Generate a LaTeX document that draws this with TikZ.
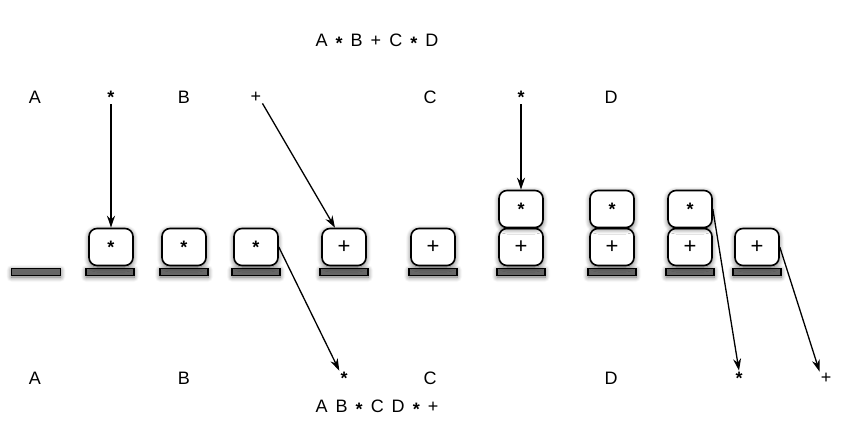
\documentclass[tikz,border=0pt]{standalone}
\usepackage{fontspec}
\setmainfont{Liberation Sans}
\usetikzlibrary{arrows.meta,shadows.blur}

\newcommand{\opmul}{\raisebox{-3pt}{\textbf{*}}}
\newcommand{\opadd}{{\fontsize{22}{24}\selectfont +}}

\begin{document}
\begin{tikzpicture}[x=1pt,y=-1pt,
                label node/.style={font=\fontsize{18}{20}\selectfont,inner sep=1pt},
                box node/.style={draw,fill=white,line width=1.6pt,rounded corners=8pt,
                        minimum width=44pt,minimum height=37pt,inner sep=0pt,
                        font=\fontsize{18}{20}\selectfont,
                        blur shadow={shadow xshift=0pt,shadow yshift=-1.5pt,shadow blur radius=5pt,
                                shadow blur steps=8,shadow opacity=60}},
                bar node/.style={draw,fill=black!60,line width=1.1pt,minimum width=48pt,
                        minimum height=7pt,inner sep=0pt,
                        blur shadow={shadow xshift=0pt,shadow yshift=-1.5pt,shadow blur radius=5pt,
                                shadow blur steps=8,shadow opacity=60}},
                arrow/.style={line width=1.3pt,-{Stealth[length=12pt,width=8pt]}},
                ]
                \useasboundingbox (0,0) rectangle (847,441);
                \def\yT{97}
                \def\yB{378}

                % expressions
                \node[label node] (infix) at (377,42) {A\, \opmul\, B\, +\, C\, \opmul\, D};
                \node[label node] (postfix) at (377,408) {A\, B\, \opmul\, C\, D\, \opmul\, +};

                % input tokens
                \node[label node] (inA) at (35,\yT) {A};
                \node[label node] (inmul1) at (111,\yT) {\opmul};
                \node[label node] (inB) at (184,\yT) {B};
                \node[label node] (inadd) at (256,\yT) {+};
                \node[label node] (inC) at (430,\yT) {C};
                \node[label node] (inmul2) at (521,\yT) {\opmul};
                \node[label node] (inD) at (611,\yT) {D};

                % output tokens
                \node[label node] (outA) at (35,\yB) {A};
                \node[label node] (outB) at (184,\yB) {B};
                \node[label node] (outmul1) at (344,\yB) {\opmul};
                \node[label node] (outC) at (430,\yB) {C};
                \node[label node] (outD) at (611,\yB) {D};
                \node[label node] (outmul2) at (739,\yB) {\opmul};
                \node[label node] (outadd) at (826,\yB) {+};

                % stack bases
                \node[bar node, minimum width=49pt] (bar1) at (36,272) {};
                \node[bar node] (bar2) at (110,272) {};
                \node[bar node] (bar3) at (184,272) {};
                \node[bar node] (bar4) at (256,272) {};
                \node[bar node] (bar5) at (344,272) {};
                \node[bar node] (bar6) at (433,272) {};
                \node[bar node] (bar7) at (521,272) {};
                \node[bar node] (bar8) at (612,272) {};
                \node[bar node] (bar9) at (690,272) {};
                \node[bar node] (bar10) at (757,272) {};

                % stack contents
                \node[box node] (low2) at (111,247) {\opmul};
                \node[box node] (low3) at (184,247) {\opmul};
                \node[box node] (low4) at (256,247) {\opmul};
                \node[box node] (low5) at (344,247) {\opadd};
                \node[box node] (low6) at (433,247) {\opadd};
                \node[box node] (low7) at (521,247) {\opadd};
                \node[box node] (up7) at (521,209) {\opmul};
                \node[box node] (low8) at (612,247) {\opadd};
                \node[box node] (up8) at (612,209) {\opmul};
                \node[box node] (low9) at (690,247) {\opadd};
                \node[box node] (up9) at (690,209) {\opmul};
                \node[box node] (low10) at (757,247) {\opadd};

                % pushes
                \draw[arrow] (inmul1) -- (low2.north);
                \draw[arrow] (inadd.south east) -- (low5.115);
                \draw[arrow] (inmul2) -- (up7.north);

                % pops
                \draw[arrow] (low4.east) -- (outmul1.north west);
                \draw[arrow] (up9.east) -- (outmul2.north);
                \draw[arrow] (low10.east) -- (outadd.north west);
            \end{tikzpicture}
\end{document}
